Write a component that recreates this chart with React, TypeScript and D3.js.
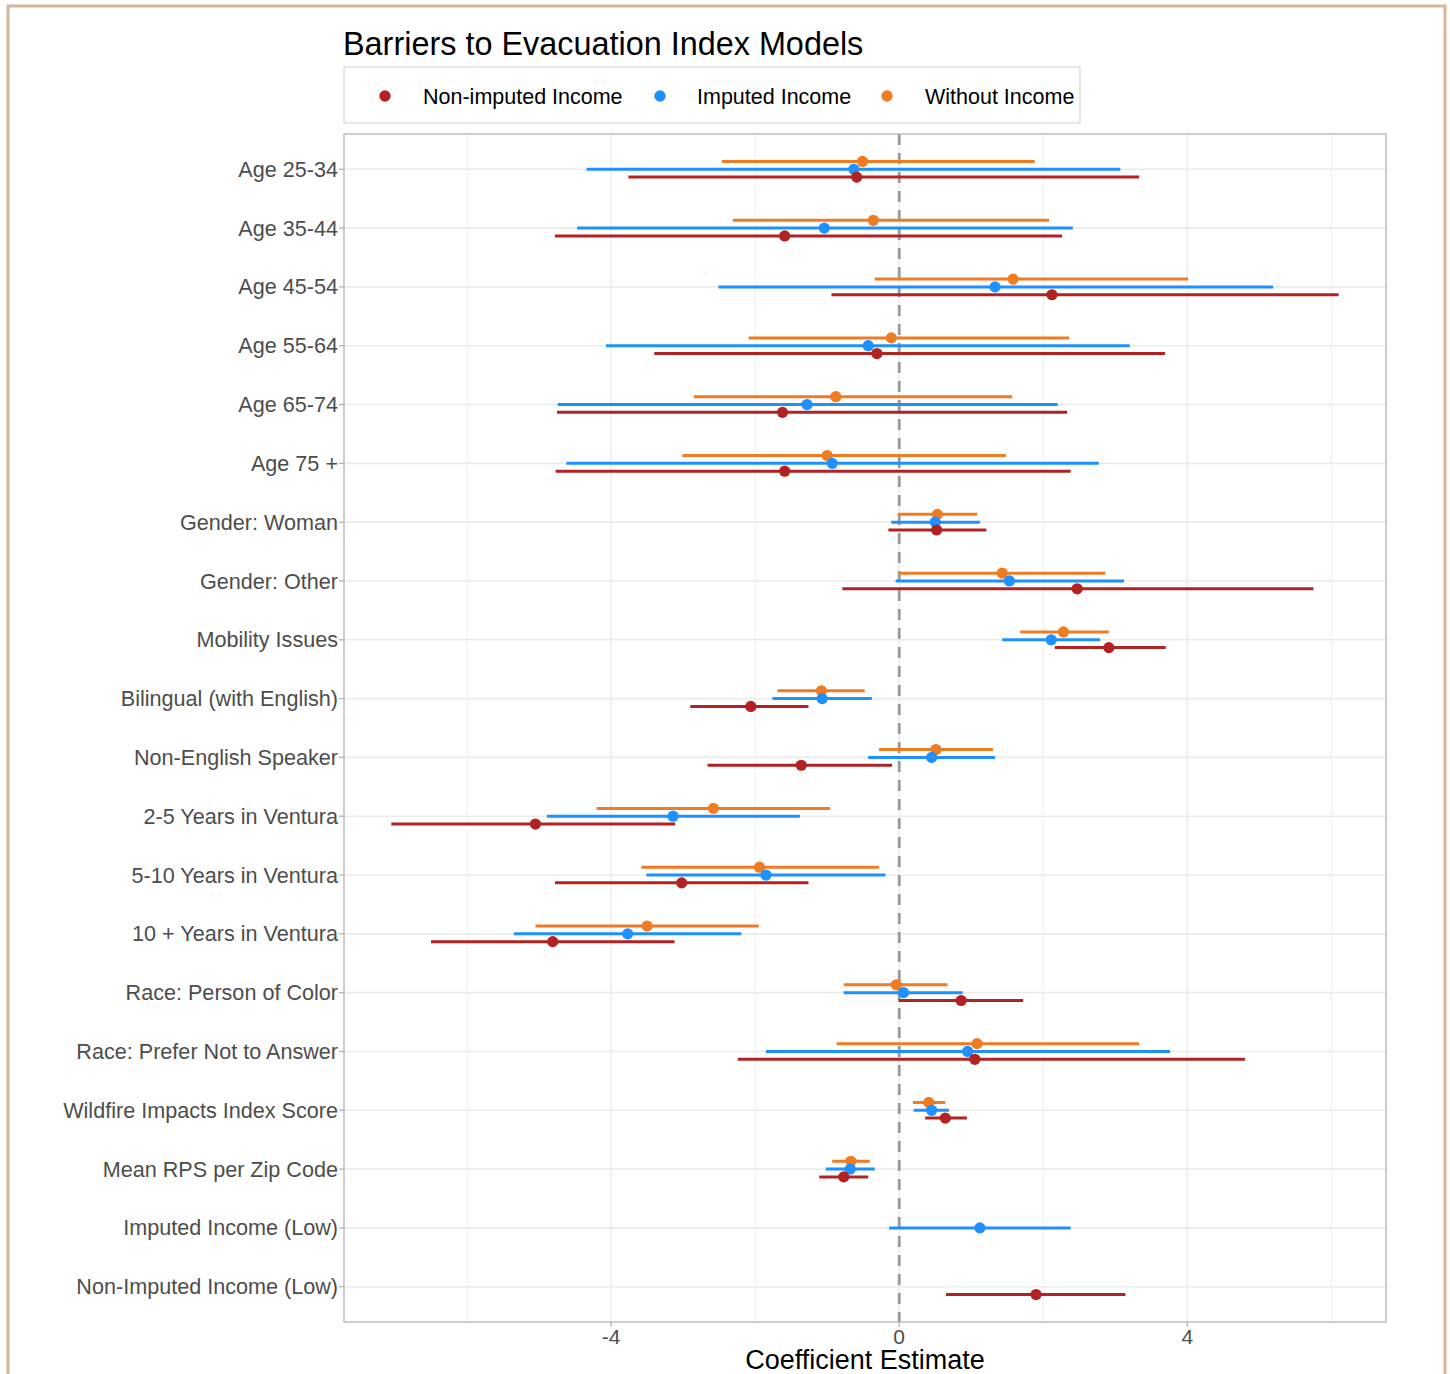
import React from "react";
import * as d3 from "d3";

const categories = [
  "Age 25-34", "Age 35-44", "Age 45-54", "Age 55-64", "Age 65-74", "Age 75 +",
  "Gender: Woman", "Gender: Other", "Mobility Issues", "Bilingual (with English)",
  "Non-English Speaker", "2-5 Years in Ventura", "5-10 Years in Ventura",
  "10 + Years in Ventura", "Race: Person of Color", "Race: Prefer Not to Answer",
  "Wildfire Impacts Index Score", "Mean RPS per Zip Code", "Imputed Income (Low)",
  "Non-Imputed Income (Low)",
];

const seriesNames = ["Non-imputed Income", "Imputed Income", "Without Income"];

const nonImputedEst = [-0.59, -1.59, 2.12, -0.31, -1.62, -1.59, 0.52, 2.47, 2.91, -2.06, -1.36, -5.05, -3.02, -4.81, 0.86, 1.05, 0.64, -0.77, null, 1.90];
const nonImputedLo = [-3.76, -4.78, -0.94, -3.40, -4.75, -4.77, -0.15, -0.79, 2.16, -2.90, -2.66, -7.05, -4.78, -6.50, -0.01, -2.24, 0.36, -1.11, null, 0.65];
const nonImputedHi = [3.33, 2.26, 6.10, 3.69, 2.33, 2.38, 1.21, 5.75, 3.70, -1.26, -0.10, -3.11, -1.26, -3.12, 1.72, 4.80, 0.94, -0.43, null, 3.14];

const imputedEst = [-0.63, -1.04, 1.33, -0.43, -1.28, -0.93, 0.50, 1.53, 2.11, -1.07, 0.45, -3.14, -1.85, -3.77, 0.06, 0.95, 0.45, -0.68, 1.12, null];
const imputedLo = [-4.34, -4.47, -2.51, -4.07, -4.74, -4.62, -0.11, -0.05, 1.43, -1.76, -0.43, -4.89, -3.51, -5.35, -0.77, -1.85, 0.20, -1.02, -0.14, null];
const imputedHi = [3.07, 2.41, 5.19, 3.20, 2.20, 2.77, 1.12, 3.12, 2.79, -0.38, 1.33, -1.38, -0.19, -2.19, 0.88, 3.76, 0.69, -0.34, 2.38, null];

const withoutEst = [-0.51, -0.36, 1.58, -0.11, -0.88, -1.00, 0.53, 1.43, 2.28, -1.08, 0.51, -2.58, -1.94, -3.50, -0.04, 1.08, 0.41, -0.67, null, null];
const withoutLo = [-2.46, -2.31, -0.34, -2.09, -2.85, -3.01, -0.02, 0.00, 1.68, -1.69, -0.28, -4.20, -3.58, -5.05, -0.77, -0.87, 0.19, -0.93, null, null];
const withoutHi = [1.88, 2.08, 4.01, 2.36, 1.57, 1.48, 1.08, 2.86, 2.91, -0.48, 1.30, -0.96, -0.28, -1.95, 0.67, 3.33, 0.64, -0.41, null, null];

const xTicks = [-4, 0, 4];
const xMinorTicks = [-6, -2, 2, 6];

const colors = ["#B22222", "#1E90FF", "#EF7B23"];

export default function App() {
  const W = 1450, H = 1374;
  const left = 344, right = 1386, top = 134, bottom = 1322;
  const font = "'Liberation Sans', Arial, Helvetica, sans-serif";

  const series = [
    { name: seriesNames[0], est: nonImputedEst, lo: nonImputedLo, hi: nonImputedHi, color: colors[0], dodge: 1 },
    { name: seriesNames[1], est: imputedEst, lo: imputedLo, hi: imputedHi, color: colors[1], dodge: 0 },
    { name: seriesNames[2], est: withoutEst, lo: withoutLo, hi: withoutHi, color: colors[2], dodge: -1 },
  ];

  const allVals: number[] = [];
  series.forEach((s) => {
    s.lo.forEach((v) => v != null && allVals.push(v));
    s.hi.forEach((v) => v != null && allVals.push(v));
  });
  const [mn, mx] = d3.extent(allVals) as [number, number];
  const pad = (mx - mn) * 0.05;
  const x = d3.scaleLinear().domain([mn - pad, mx + pad]).range([left, right]);
  const y = d3.scalePoint<string>().domain(categories).range([top, bottom]).padding(0.6);
  const dodgeStep = y.step() * 0.133;

  const drawOrder = [series[2], series[1], series[0]];

  return (
    <svg width={W} height={H} style={{ position: "absolute", left: 0, top: 0, background: "#fff" }} fontFamily={font}>
      <rect x={0} y={0} width={W} height={H} fill="#fff" />
      <rect x={8} y={6} width={1437} height={1380} fill="none" stroke="#D5B69B" strokeWidth={3} />

      <text x={343} y={55} fontSize={32.4} fill="#000">Barriers to Evacuation Index Models</text>

      <rect x={344} y={67} width={736} height={56} fill="#fff" stroke="#D9D9D9" strokeWidth={1.2} />
      {[
        { c: colors[0], cx: 385, tx: 423, label: seriesNames[0] },
        { c: colors[1], cx: 660, tx: 697, label: seriesNames[1] },
        { c: colors[2], cx: 887, tx: 925, label: seriesNames[2] },
      ].map((d) => (
        <g key={d.label}>
          <circle cx={d.cx} cy={96} r={5.7} fill={d.c} />
          <text x={d.tx} y={96} dy="0.35em" fontSize={21.5} fill="#000">{d.label}</text>
        </g>
      ))}

      {/* grid */}
      {xMinorTicks.map((t) => (
        <line key={"mn" + t} x1={x(t)} x2={x(t)} y1={top} y2={bottom} stroke="#EEEEEE" strokeWidth={1} />
      ))}
      {xTicks.map((t) => (
        <line key={"mj" + t} x1={x(t)} x2={x(t)} y1={top} y2={bottom} stroke="#EBEBEB" strokeWidth={1.4} />
      ))}
      {categories.map((c) => (
        <line key={"hg" + c} x1={left} x2={right} y1={y(c)} y2={y(c)} stroke="#EBEBEB" strokeWidth={1.6} />
      ))}

      <line x1={x(0)} x2={x(0)} y1={top} y2={bottom} stroke="#999999" strokeWidth={2.8} strokeDasharray="11,8" />

      {drawOrder.map((s) => (
        <g key={s.name}>
          {categories.map((c, i) => {
            if (s.est[i] == null) return null;
            const yy = (y(c) as number) + s.dodge * dodgeStep;
            return (
              <g key={c}>
                <line x1={x(s.lo[i] as number)} x2={x(s.hi[i] as number)} y1={yy} y2={yy} stroke={s.color} strokeWidth={3} />
                <circle cx={x(s.est[i] as number)} cy={yy} r={5.6} fill={s.color} />
              </g>
            );
          })}
        </g>
      ))}

      <rect x={left} y={top} width={right - left} height={bottom - top} fill="none" stroke="#B3B3B3" strokeWidth={1.3} />

      {/* y axis */}
      {categories.map((c) => (
        <g key={"yl" + c}>
          <line x1={left - 5} x2={left} y1={y(c)} y2={y(c)} stroke="#B3B3B3" strokeWidth={1.3} />
          <text x={left - 6} y={y(c)} dy="0.35em" textAnchor="end" fontSize={21.6} fill="#4D4D4D">{c}</text>
        </g>
      ))}

      {/* x axis */}
      {xTicks.map((t) => (
        <g key={"xt" + t}>
          <line x1={x(t)} x2={x(t)} y1={bottom} y2={bottom + 5} stroke="#B3B3B3" strokeWidth={1.3} />
          <text x={x(t)} y={1337} dy="0.35em" textAnchor="middle" fontSize={21} fill="#4D4D4D">{t}</text>
        </g>
      ))}
      <text x={(left + right) / 2} y={1369} textAnchor="middle" fontSize={27} fill="#000">Coefficient Estimate</text>
    </svg>
  );
}
